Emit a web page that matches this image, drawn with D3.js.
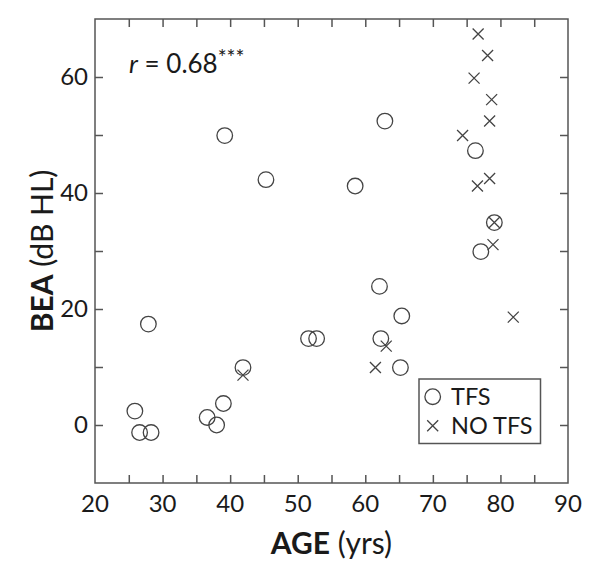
<!DOCTYPE html>
<html><head><meta charset="utf-8">
<script src="https://cdn.jsdelivr.net/npm/d3@7"></script>
<style>body{margin:0;background:#fff;}</style>
</head><body>
<svg id="c" width="600" height="572"></svg>
<script>
const tfsAge = [25.9, 26.6, 28.3, 27.9, 36.6, 38.0, 39.0, 41.9, 39.2, 45.3, 51.6, 52.8, 58.5, 62.9, 62.1, 62.3, 65.4, 65.2, 76.3, 79.1, 77.1];
const tfsBEA = [2.4, -1.3, -1.3, 17.4, 1.3, 0.0, 3.7, 9.9, 49.9, 42.3, 14.9, 14.9, 41.2, 52.4, 23.9, 14.9, 18.8, 9.9, 47.3, 34.9, 29.9];
const noAge = [41.9, 61.5, 63.1, 74.4, 76.1, 76.6, 76.7, 78.1, 78.4, 78.4, 78.7, 78.9, 79.1, 81.9];
const noBEA = [8.6, 9.9, 13.6, 49.9, 59.8, 41.2, 67.4, 63.7, 52.4, 42.5, 56.1, 31.1, 34.9, 18.6];
const xTickLabels = [20, 30, 40, 50, 60, 70, 80, 90];
const yTickLabels = [0, 20, 40, 60];
const legendLabels = ["TFS", "NO TFS"];

const svg = d3.select("#c");
const font = "Lato, 'Open Sans', sans-serif";
const L = 95, R = 568, T = 19, B = 483;
const x = d3.scaleLinear().domain([20, 90]).range([L, R]);
const y = d3.scaleLinear().domain([-10, 70]).range([B, T]);
const axisCol = "#555", markCol = "#444", textCol = "#1a1a1a";

svg.append("rect").attr("x", L).attr("y", T).attr("width", R - L).attr("height", B - T)
  .attr("fill", "none").attr("stroke", axisCol).attr("stroke-width", 1.5);

const xt = d3.range(25, 90, 5), yt = d3.range(0, 70, 10);
const tl = 8;
const ax = [
  d3.axisBottom(x).tickValues(xt).tickSizeInner(-tl).tickSizeOuter(0).tickFormat(""),
  d3.axisTop(x).tickValues(xt).tickSizeInner(-tl).tickSizeOuter(0).tickFormat(""),
  d3.axisLeft(y).tickValues(yt).tickSizeInner(-tl).tickSizeOuter(0).tickFormat(""),
  d3.axisRight(y).tickValues(yt).tickSizeInner(-tl).tickSizeOuter(0).tickFormat("")
];
const tr = [`translate(0,${B})`, `translate(0,${T})`, `translate(${L},0)`, `translate(${R},0)`];
ax.forEach((a, i) => {
  const g = svg.append("g").attr("transform", tr[i]).call(a);
  g.select(".domain").remove();
  g.selectAll("line").attr("stroke", axisCol).attr("stroke-width", 1.5);
});

svg.append("g").selectAll("text").data(xTickLabels).join("text")
  .attr("x", d => x(d)).attr("y", B + 29).attr("text-anchor", "middle")
  .attr("font-family", font).attr("font-size", 24).attr("fill", textCol).text(d => d);
svg.append("g").selectAll("text").data(yTickLabels).join("text")
  .attr("x", L - 7).attr("y", d => y(d) + 8).attr("text-anchor", "end")
  .attr("font-family", font).attr("font-size", 24).attr("fill", textCol).text(d => d);

const xl = svg.append("text").attr("x", (L + R) / 2).attr("y", B + 71).attr("text-anchor", "middle")
  .attr("font-family", font).attr("font-size", 30).attr("fill", textCol);
xl.append("tspan").attr("font-weight", "bold").text("AGE");
xl.append("tspan").text(" (yrs)");

const yl = svg.append("text").attr("transform", `translate(53,${(T + B) / 2}) rotate(-90)`)
  .attr("text-anchor", "middle").attr("font-family", font).attr("font-size", 30).attr("fill", textCol);
yl.append("tspan").attr("font-weight", "bold").text("BEA");
yl.append("tspan").text(" (dB HL)");

const rt = svg.append("text").attr("x", 129).attr("y", 73).attr("font-family", font)
  .attr("font-size", 26).attr("fill", textCol);
rt.append("tspan").attr("font-style", "italic").text("r");
rt.append("tspan").text(" = 0.68");
rt.append("tspan").attr("dy", -8).attr("font-size", 21).text("***");

const tfs = tfsAge.map((a, i) => [a, tfsBEA[i]]);
const no = noAge.map((a, i) => [a, noBEA[i]]);
svg.append("g").selectAll("circle").data(tfs).join("circle")
  .attr("cx", d => x(d[0])).attr("cy", d => y(d[1])).attr("r", 7.8)
  .attr("fill", "none").attr("stroke", markCol).attr("stroke-width", 1.3);
const s = 5.5;
const crossPath = (cx, cy) => `M${cx - s},${cy - s}L${cx + s},${cy + s}M${cx - s},${cy + s}L${cx + s},${cy - s}`;
svg.append("g").selectAll("path").data(no).join("path")
  .attr("d", d => crossPath(x(d[0]), y(d[1])))
  .attr("fill", "none").attr("stroke", markCol).attr("stroke-width", 1.3);

// legend
const lg = svg.append("g");
lg.append("rect").attr("x", 419).attr("y", 379).attr("width", 121.5).attr("height", 64.5)
  .attr("fill", "#fff").attr("stroke", axisCol).attr("stroke-width", 1.5);
lg.append("circle").attr("cx", 432.7).attr("cy", 396.7).attr("r", 7.8)
  .attr("fill", "none").attr("stroke", markCol).attr("stroke-width", 1.3);
lg.append("path").attr("d", crossPath(432.7, 425.7)).attr("stroke", markCol).attr("stroke-width", 1.3);
lg.selectAll("text").data(legendLabels).join("text")
  .attr("x", 451).attr("y", (d, i) => 405 + i * 29).attr("font-family", font)
  .attr("font-size", 23.5).attr("fill", textCol).text(d => d);
</script>
</body></html>
